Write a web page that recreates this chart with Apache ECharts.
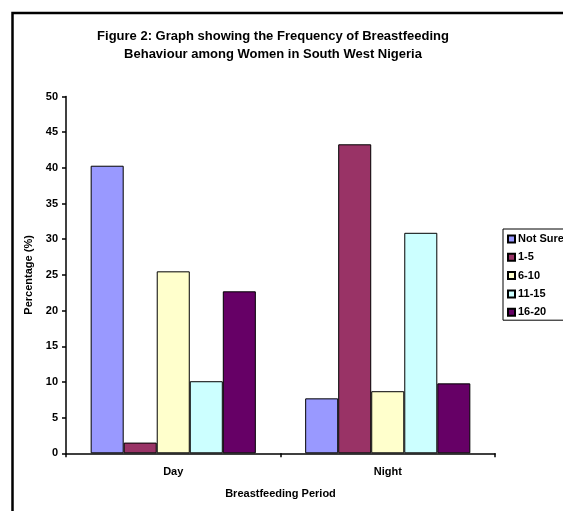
<!DOCTYPE html>
<html>
<head>
<meta charset="utf-8">
<script src="https://cdn.jsdelivr.net/npm/echarts@6/dist/echarts.min.js"></script>
<style>
html,body{margin:0;padding:0;background:#fff;}
#chart{width:563px;height:511px;}
</style>
</head>
<body>
<div id="chart"></div>
<script>
const categories = ['Day', 'Night'];
const seriesNames = ['Not Sure', '1-5', '6-10', '11-15', '16-20'];
const notSure = [40.3, 7.7];
const f1to5 = [1.5, 43.3];
const f6to10 = [25.5, 8.7];
const f11to15 = [10.1, 30.9];
const f16to20 = [22.7, 9.8];
const colors = ['#9999FF', '#993366', '#FFFFCC', '#CCFFFF', '#660066'];
const yTicks = [0, 5, 10, 15, 20, 25, 30, 35, 40, 45, 50];

const values = [notSure, f1to5, f6to10, f11to15, f16to20];
const FONT = 'Liberation Sans, Arial, sans-serif';

const chart = echarts.init(document.getElementById('chart'));
chart.setOption({
  animation: false,
  backgroundColor: '#fff',
  title: {
    text: 'Figure 2: Graph showing the Frequency of Breastfeeding\nBehaviour among Women in South West Nigeria',
    left: 268,
    top: 22,
    textAlign: 'center',
    textStyle: { fontFamily: FONT, fontSize: 13, fontWeight: 'bold', color: '#000', lineHeight: 18 }
  },
  graphic: [{
    type: 'rect',
    shape: { x: 12.5, y: 13, width: 700, height: 700 },
    style: { fill: 'none', stroke: '#000', lineWidth: 2.5 },
    silent: true
  }],
  legend: {
    orient: 'vertical',
    left: 503,
    top: 229,
    padding: [4, 4, 2, 4],
    borderColor: '#000',
    borderWidth: 1,
    itemWidth: 7,
    itemHeight: 7,
    itemGap: 6.3,
    icon: 'rect',
    textStyle: { fontFamily: FONT, fontSize: 11, fontWeight: 'bold', color: '#000', lineHeight: 12, padding: [0, 0, 0, -2] },
    data: seriesNames
  },
  grid: { left: 66, right: 68, top: 96.5, bottom: 57.7 },
  xAxis: {
    type: 'category',
    data: categories,
    name: 'Breastfeeding Period',
    nameLocation: 'middle',
    nameGap: 35,
    nameTextStyle: { fontFamily: FONT, fontSize: 11, fontWeight: 'bold', color: '#000' },
    axisLine: { lineStyle: { color: '#000', width: 1.5 } },
    axisTick: { show: true, length: 4, lineStyle: { color: '#000', width: 1.5 } },
    axisLabel: { fontFamily: FONT, fontSize: 11, fontWeight: 'bold', color: '#000', margin: 13 }
  },
  yAxis: {
    type: 'value',
    min: 0,
    max: 50,
    interval: 5,
    name: 'Percentage (%)',
    nameLocation: 'middle',
    nameGap: 28,
    nameRotate: 90,
    nameTextStyle: { fontFamily: FONT, fontSize: 11, fontWeight: 'bold', color: '#000' },
    axisLine: { show: true, lineStyle: { color: '#000', width: 1.5 } },
    axisTick: { show: true, length: 4, lineStyle: { color: '#000', width: 1.5 } },
    splitLine: { show: false },
    axisLabel: {
      fontFamily: FONT, fontSize: 11, fontWeight: 'bold', color: '#000', margin: 8,
      formatter: v => yTicks.includes(v) ? String(v) : ''
    }
  },
  series: seriesNames.map((name, i) => ({
    name: name,
    type: 'bar',
    data: values[i],
    barGap: '0%',
    barCategoryGap: '23%',
    itemStyle: { color: colors[i], borderColor: '#000', borderWidth: 1 }
  }))
});
</script>
</body>
</html>
